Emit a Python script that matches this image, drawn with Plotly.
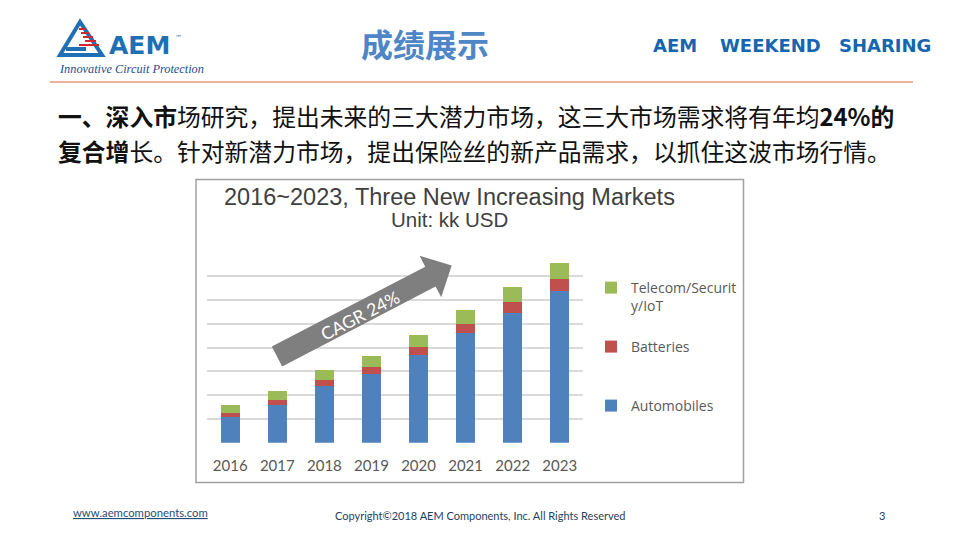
import numpy as np
import plotly.graph_objects as go

# ---------------- data ----------------
years = ["2016", "2017", "2018", "2019", "2020", "2021", "2022", "2023"]
automobiles = [109, 159, 240, 289, 369, 463, 546, 640]
batteries = [17, 21, 24, 30, 34, 37, 46, 49]
telecom = [33, 38, 42, 46, 50, 59, 63, 67]
series_names = ["Automobiles", "Batteries", "Telecom/Securit<br>y/IoT"]
series_colors = ["#4F81BD", "#C0504D", "#9BBB59"]
series_legends = ["legend3", "legend2", "legend"]

W, H = 960, 540


def px(x):
    return x / W


def py(y):
    return 1 - y / H


fig = go.Figure()
for vals, name, col, lg in zip([automobiles, batteries, telecom], series_names, series_colors,
                               series_legends):
    fig.add_trace(go.Bar(x=years, y=vals, name=name, legend=lg,
                         marker=dict(color=col, line=dict(width=0))))

shapes = []
annotations = []


def note(text, x, y, size, color, family, xanchor="center", angle=0):
    annotations.append(dict(text=text, xref="paper", yref="paper", x=px(x), y=py(y),
                            xanchor=xanchor, yanchor="middle", showarrow=False, textangle=angle,
                            font=dict(family=family, size=size, color=color)))


# chart frame
shapes.append(dict(type="rect", xref="paper", yref="paper", x0=px(196), x1=px(743.5),
                   y0=py(482.5), y1=py(179.5), line=dict(color="#A0A0A0", width=1.5),
                   fillcolor="rgba(0,0,0,0)", layer="below"))

# header rule
shapes.append(dict(type="line", xref="paper", yref="paper", x0=px(50), x1=px(913),
                   y0=py(82), y1=py(82), line=dict(color="#D9673E", width=1.2)))

# CAGR arrow (decoration)
tail = np.array([277.0, 356.5])
tip = np.array([451.7, 265.5])
d = tip - tail
u = d / np.hypot(*d)
n = np.array([-u[1], u[0]])
hw_shaft, hw_head, head_len = 11.2, 23.4, 24.0
base = tip - u * head_len
pts = [tail + n * hw_shaft, base + n * hw_shaft, base + n * hw_head, tip,
       base - n * hw_head, base - n * hw_shaft, tail - n * hw_shaft]
path = "M " + " L ".join(f"{px(p[0]):.5f},{py(p[1]):.5f}" for p in pts) + " Z"
shapes.append(dict(type="path", xref="paper", yref="paper", path=path,
                   fillcolor="#7F7F7F", line=dict(width=0), layer="above"))
ang = -np.degrees(np.arctan2(-d[1], d[0]))
note("CAGR 24%", 360, 315, 17.5, "white", "Lato", angle=ang)

# chart titles
note("2016~2023, Three New Increasing Markets", 449, 197, 23.5, "#404040", "Liberation Sans")
note("Unit: kk USD", 449, 219.5, 20.5, "#404040", "Liberation Sans")

# ---------- slide header ----------
logo = "M {},{} L {},{} L {},{} Z".format(px(60), py(55), px(80), py(22), px(102), py(55))
shapes.append(dict(type="path", xref="paper", yref="paper", path=logo,
                   line=dict(color="#1F6FB5", width=4), fillcolor="rgba(0,0,0,0)"))
for yy, x0, x1 in [(29, 79, 85), (33, 81, 89), (37, 83, 93), (41, 85, 96), (45, 79, 99)]:
    shapes.append(dict(type="line", xref="paper", yref="paper", x0=px(x0), x1=px(x1),
                       y0=py(yy), y1=py(yy), line=dict(color="#D22630", width=2)))
shapes.append(dict(type="line", xref="paper", yref="paper", x0=px(66), x1=px(86),
                   y0=py(49), y1=py(49), line=dict(color="#1F6FB5", width=4)))
note("<b>AEM</b>", 107, 46, 25, "#1F6FB5", "DejaVu Sans", xanchor="left")
note("™", 173, 38, 7, "#1F6FB5", "DejaVu Sans", xanchor="left")
note("<i>Innovative Circuit Protection</i>", 57, 69, 12.3, "#1F4E8C", "Liberation Serif",
     xanchor="left")

note("<b>成绩展示</b>", 425, 43, 32, "#4F86C6", "Noto Sans CJK SC")
for word, cx in [("AEM", 674.5), ("WEEKEND", 770), ("SHARING", 885)]:
    note(f"<b>{word}</b>", cx, 46, 18, "#1565B0", "DejaVu Sans")

# body text
line1 = "<b>一、深入市</b>场研究，提出未来的三大潜力市场，这三大市场需求将有年均<b>24%的</b>"
line2 = "<b>复合增</b>长。针对新潜力市场，提出保险丝的新产品需求，以抓住这波市场行情。"
note(line1, 56, 115, 23.8, "#111111", "Noto Sans CJK SC", xanchor="left")
note(line2, 56, 150, 23.8, "#111111", "Noto Sans CJK SC", xanchor="left")

# footer
note("<u>www.aemcomponents.com</u>", 140.5, 512, 11.3, "#1F4E79", "Lato")
note("Copyright©2018 AEM Components, Inc. All Rights Reserved", 480, 515, 11, "#1F3F5F", "Lato")
note("3", 882, 515, 11, "#1F3F5F", "Lato")

legend_font = dict(family="Open Sans", size=14, color="#595959")


def legend_at(ytop):
    return dict(x=px(591), y=py(ytop), xanchor="left", yanchor="top", valign="top",
                itemwidth=30, font=legend_font, bgcolor="rgba(0,0,0,0)")


fig.update_layout(
    width=W, height=H, autosize=False,
    margin=dict(l=0, r=0, t=0, b=0),
    paper_bgcolor="white", plot_bgcolor="white",
    barmode="stack", bargap=0.6,
    xaxis=dict(domain=[px(206.7), px(583.3)], showgrid=False, showline=False, ticks="",
               tickfont=dict(family="Lato", size=15, color="#595959"), ticklabelstandoff=12,
               fixedrange=True),
    yaxis=dict(domain=[py(442.7), py(252.7)], range=[0, 800], dtick=100, showgrid=True,
               gridcolor="#D9D9D9", gridwidth=1.5, zeroline=False, showticklabels=False,
               ticks="", showline=False, fixedrange=True),
    showlegend=True,
    legend=legend_at(272),
    legend2=legend_at(331),
    legend3=legend_at(390),
    shapes=shapes, annotations=annotations,
)

fig.write_html("out.html", config={"displayModeBar": False},
               post_script="document.body.style.margin='0';")
